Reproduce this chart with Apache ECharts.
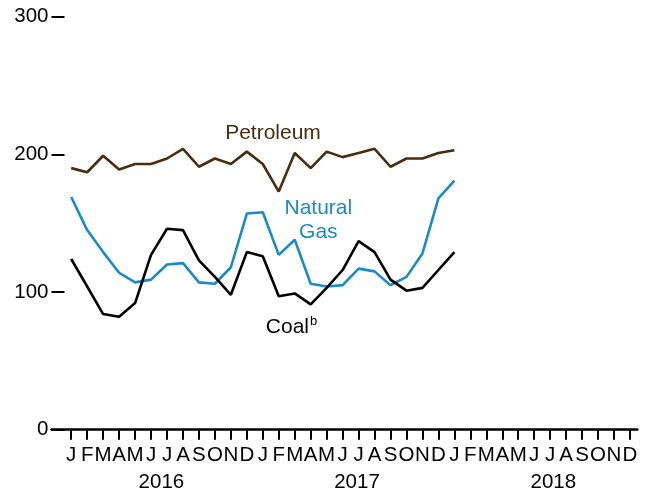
<!DOCTYPE html>
<html>
<head>
<meta charset="utf-8">
<script src="https://cdn.jsdelivr.net/npm/echarts@6/dist/echarts.min.js"></script>
<style>
  html, body { margin: 0; padding: 0; background: #fff; }
  #chart { width: 648px; height: 489px; }
</style>
</head>
<body>
<div id="chart"></div>
<script>
// Monthly tick letters, Jan 2016 through Dec 2018
const monthLetters = ['J','F','M','A','M','J','J','A','S','O','N','D'];
const years = ['2016', '2017', '2018'];
const yTicks = [0, 100, 200, 300];

// Monthly values, Jan 2016 .. Jan 2018 (25 months)
const petroleum = [190, 187, 199, 189, 193, 193, 197, 204, 191, 197, 193, 202,
                   193, 173, 201, 190, 202, 198, 201, 204, 191, 197, 197, 201, 203];
const naturalGas = [169, 145, 129, 114, 107, 109, 120, 121, 107, 106, 118, 157,
                    158, 127, 138, 106, 104, 105, 117, 115, 105, 111, 128, 168, 181];
const coal = [124, 104, 84, 82, 92, 127, 146, 145, 123, 111, 98, 129,
              126, 97, 99, 91, 103, 116, 137, 129, 109, 101, 103, 116, 129];

// Positions of the year captions along the month axis
const yearCenters = [5.65, 17.9, 30.2];

const months = [];
years.forEach(() => monthLetters.forEach(m => months.push(m)));
const monthIdx = months.map((_, i) => i);

const toPairs = arr => arr.map((v, i) => [i, v]);

const FONT = 'Liberation Sans, Arial, sans-serif';
const AXIS_FS = 20.5;
const LABEL_FS = 21;
const BROWN = '#4a2c0e';
const BLUE = '#1a8bc6';
const BLACK = '#000000';

const chart = echarts.init(document.getElementById('chart'), null, { renderer: 'canvas' });

function labelPoint(name, coord, color, text, rich) {
  return {
    symbol: 'circle', symbolSize: 0,
    data: [{ name: name, coord: coord }],
    label: {
      show: true, position: 'inside', color: color,
      fontFamily: FONT, fontSize: LABEL_FS, lineHeight: 24, align: 'center',
      formatter: text, rich: rich
    }
  };
}

chart.setOption({
  animation: false,
  backgroundColor: '#ffffff',
  grid: {
    left: 51.5, right: 10.7, top: 16.7, bottom: 59.3,
    containLabel: false, outerBoundsMode: 'none'
  },
  xAxis: [
    {
      type: 'value', min: -1.235, max: 35.458,
      splitLine: { show: false },
      axisLine: { show: true, lineStyle: { color: '#000', width: 2.5 } },
      axisTick: { show: true, customValues: monthIdx, length: 10, lineStyle: { color: '#000', width: 2 } },
      axisLabel: {
        customValues: monthIdx, margin: 15, color: '#000', fontFamily: FONT, fontSize: AXIS_FS,
        formatter: v => months[Math.round(v)] || ''
      }
    },
    {
      type: 'value', min: -1.235, max: 35.458, position: 'bottom',
      splitLine: { show: false },
      axisLine: { show: false }, axisTick: { show: false },
      axisLabel: {
        customValues: yearCenters, margin: 42, color: '#000', fontFamily: FONT, fontSize: AXIS_FS,
        formatter: v => years[yearCenters.indexOf(v)] || ''
      }
    }
  ],
  yAxis: {
    type: 'value', min: 0, max: 300, interval: 100,
    splitLine: { show: false },
    axisLine: { show: false, onZero: false },
    axisTick: { show: true, inside: true, length: 13, lineStyle: { color: '#000', width: 2 } },
    axisLabel: {
      margin: 3, color: '#000', fontFamily: FONT, fontSize: AXIS_FS,
      padding: [2, 0, 0, 0],
      formatter: v => (yTicks.indexOf(v) >= 0 ? String(v) : '')
    }
  },
  series: [
    {
      name: 'Petroleum', type: 'line', data: toPairs(petroleum), showSymbol: false,
      lineStyle: { color: BROWN, width: 2.6 }, itemStyle: { color: BROWN },
      markPoint: labelPoint('Petroleum', [12.64, 215.5], BROWN, 'Petroleum')
    },
    {
      name: 'Natural Gas', type: 'line', data: toPairs(naturalGas), showSymbol: false,
      lineStyle: { color: BLUE, width: 2.6 }, itemStyle: { color: BLUE },
      markPoint: labelPoint('Natural Gas', [15.48, 152.3], BLUE, 'Natural\nGas')
    },
    {
      name: 'Coal', type: 'line', data: toPairs(coal), showSymbol: false,
      lineStyle: { color: BLACK, width: 2.6 }, itemStyle: { color: BLACK },
      markPoint: labelPoint('Coal', [13.8, 74.5], BLACK, '{a|Coal}{s|b}', {
        a: { fontFamily: FONT, fontSize: LABEL_FS, color: BLACK },
        s: { fontFamily: FONT, fontSize: 13, color: BLACK, verticalAlign: 'top', padding: [0, 0, 9, 1] }
      })
    }
  ]
});
</script>
</body>
</html>
